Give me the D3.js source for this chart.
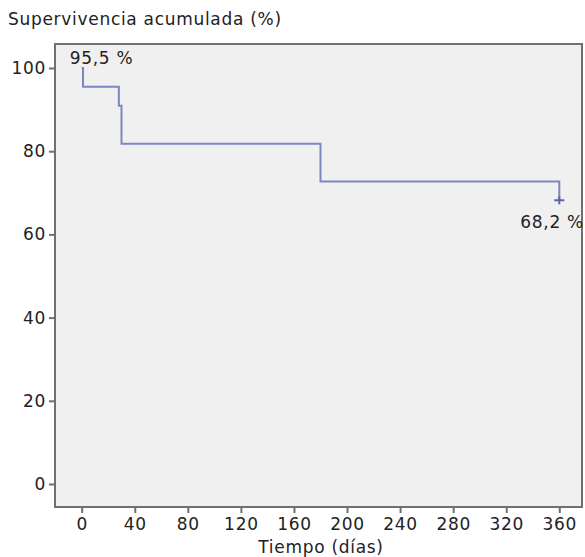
<!DOCTYPE html>
<html>
<head>
<meta charset="utf-8">
<script src="https://cdn.jsdelivr.net/npm/d3@7"></script>
<style>
  body { margin: 0; background: #fff; }
  text { font-family: "DejaVu Sans", Verdana, sans-serif; fill: #222; letter-spacing: 0.7px; }
</style>
</head>
<body>
<svg id="chart" width="585" height="557"></svg>
<script>
// Kaplan-Meier steps
const tiempos = [0, 1, 28, 30, 180, 360];
const supervivencia = [100, 95.5, 90.9, 81.8, 72.7, 68.2];
const censurados = [{t: 360, s: 68.2}];
const etiquetas = [
  {t: 0, s: 100, texto: "95,5 %"},
  {t: 360, s: 68.2, texto: "68,2 %"}
];
const xTicks = [0, 40, 80, 120, 160, 200, 240, 280, 320, 360];
const yTicks = [0, 20, 40, 60, 80, 100];

const svg = d3.select("#chart");
const fontSize = 17;

const xScale = d3.scaleLinear().domain([0, 360]).range([81.7, 559.3]);
const yScale = d3.scaleLinear().domain([0, 100]).range([484, 68]);

// plot frame
const box = {x0: 55, y0: 44, x1: 582, y1: 507};
svg.append("rect")
  .attr("x", box.x0).attr("y", box.y0)
  .attr("width", box.x1 - box.x0).attr("height", box.y1 - box.y0)
  .attr("fill", "#f0f0f0")
  .attr("stroke", "#707070")
  .attr("stroke-width", 2);

// axes
const xAxis = svg.append("g")
  .attr("transform", "translate(0," + box.y1 + ")")
  .call(d3.axisBottom(xScale).tickValues(xTicks).tickSize(6).tickSizeOuter(0).tickPadding(5));
const yAxis = svg.append("g")
  .attr("transform", "translate(" + box.x0 + ",0)")
  .call(d3.axisLeft(yScale).tickValues(yTicks).tickSize(6).tickSizeOuter(0).tickPadding(3));

[xAxis, yAxis].forEach(function(a) {
  a.select(".domain").remove();
  a.selectAll(".tick line").attr("stroke", "#707070").attr("stroke-width", 2);
  a.selectAll(".tick text")
    .attr("fill", "#222")
    .style("font-size", fontSize + "px")
    .style("font-family", "DejaVu Sans, Verdana, sans-serif");
});

// survival curve
const puntos = tiempos.map(function(t, i) { return [t, supervivencia[i]]; });
const linea = d3.line()
  .x(function(d) { return xScale(d[0]); })
  .y(function(d) { return yScale(d[1]); })
  .curve(d3.curveStepAfter);

svg.append("path")
  .datum(puntos)
  .attr("d", linea)
  .attr("fill", "none")
  .attr("stroke", "#7c86c0")
  .attr("stroke-width", 2);

// censored marks
svg.append("g")
  .selectAll("path")
  .data(censurados)
  .enter()
  .append("path")
  .attr("d", function(d) {
    const cx = xScale(d.t), cy = yScale(d.s);
    return "M" + (cx - 5) + "," + cy + "H" + (cx + 5) + "M" + cx + "," + (cy - 4) + "V" + (cy + 4);
  })
  .attr("stroke", "#5a64a4")
  .attr("stroke-width", 2);

// percentage labels
svg.append("text")
  .attr("x", xScale(etiquetas[0].t) - 12)
  .attr("y", yScale(etiquetas[0].s) - 4)
  .style("font-size", fontSize + "px")
  .text(etiquetas[0].texto);

svg.append("text")
  .attr("x", xScale(etiquetas[1].t) - 39)
  .attr("y", yScale(etiquetas[1].s) + 28)
  .style("font-size", fontSize + "px")
  .text(etiquetas[1].texto);

// axis titles
svg.append("text")
  .attr("x", 8).attr("y", 25)
  .style("font-size", fontSize + "px")
  .text("Supervivencia acumulada (%)");

svg.append("text")
  .attr("x", 321).attr("y", 553)
  .attr("text-anchor", "middle")
  .style("font-size", fontSize + "px")
  .text("Tiempo (días)");
</script>
</body>
</html>
